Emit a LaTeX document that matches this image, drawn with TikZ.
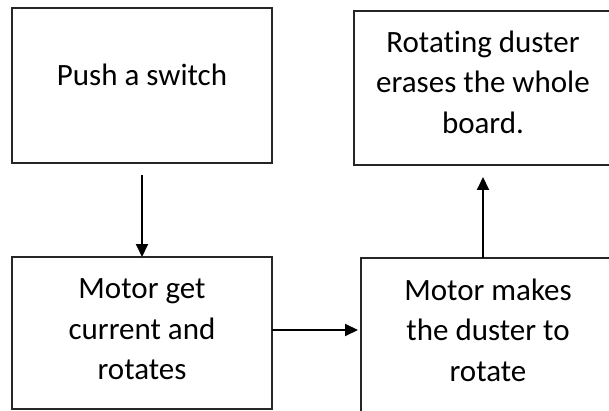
\documentclass[tikz,border=0pt]{standalone}
\usepackage{fontspec}
\setmainfont{Carlito}[Ligatures={NoCommon}]
\usetikzlibrary{arrows.meta,positioning}

\begin{document}
\begin{tikzpicture}[
  x=1pt,y=-1pt,
  node distance=94pt and 88pt,
  box/.style={draw=black!85,line width=2pt,anchor=north west,outer sep=0pt,
              minimum width=260pt,minimum height=155pt,inner sep=0pt,
              font=\fontsize{31}{40.5}\selectfont,align=center,text depth=12pt},
  arr/.style={-{Triangle[length=13pt,width=12pt]},line width=2pt}
]
  \useasboundingbox (0,0) rectangle (609,411);
  \clip (0,0) rectangle (609,411);

  \node[box,text depth=22pt] (sw) at (12,8) {Push a switch};
  \node[box,below=of sw,minimum height=152pt,text depth=7pt] (mg)
       {Motor get\\current and\\rotates};
  \node[box,minimum width=254pt,minimum height=156pt] (mm) at (361,258)
       {Motor makes\\the duster to\\rotate};
  \node[box,minimum width=258pt,minimum height=154pt] (er) at (354,11)
       {Rotating duster\\erases the whole\\board.};

  \draw[arr]([yshift=-12pt]sw.south)--(mg.north);
  \draw[arr,shorten >=3pt]([yshift=3pt]mg.east)--([yshift=3pt]mg.east -| mm.west);
  \draw[arr,shorten >=12pt](er.south |- mm.north)--(er.south);
\end{tikzpicture}
\end{document}
